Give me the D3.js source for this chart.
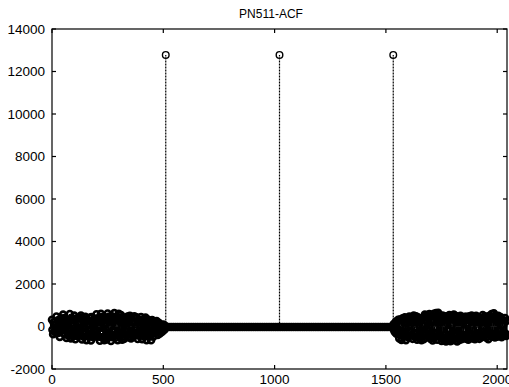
<!DOCTYPE html>
<html>
<head>
<meta charset="utf-8">
<script src="https://cdn.jsdelivr.net/npm/d3@7"></script>
<style>
  body { margin: 0; background: #fff; }
  text { font-family: "Liberation Sans", Arial, sans-serif; fill: #000; }
</style>
</head>
<body>
<svg width="509" height="387"></svg>
<script>
// ****** Data ******
var title = "PN511-ACF";
var xTicks = [0, 500, 1000, 1500, 2000];
var yTicks = [-2000, 0, 2000, 4000, 6000, 8000, 10000, 12000, 14000];

// the three correlation peaks
var peakLags = [511, 1022, 1533];
var peakValues = [12780, 12780, 12780];

// sidelobes before the first peak, every 5th lag from 0
var leftValues = [
  320, -360, 60, -180, 470, -280, 150, -490, 390, -90,
  560, -330, 210, -540, 250, -120, 590, -560, 30, -380,
  510, -600, 340, -250, 120, -420, 520, -610, 290, -40,
  460, -640, 80, -350, 410, -660, 200, -500, 370, -150,
  580, -450, -60, -670, 600, -260, 330, -640, 110, -610,
  610, -420, 240, -680, 480, -170, 630, -530, 20, -650,
  600, -310, 540, -620, 150, -580, 390, -100, 470, -500,
  500, -560, 230, -340, 480, -80, 430, -590, 300, -200,
  450, -600, 120, -470, 420, -640, 330, -250, 60, -650,
  300, -480, 190, -110, 260, -400, 180, -330, 70, -250,
  90, -150
];
// same stretch, every 5th lag from 2
var leftValuesB = [
  -150, 200, -250, 120, -320, 280, -60, 350, -200, 240,
  -300, 400, -180, 330, -420, 260, -350, 150, -460, 300,
  -250, 380, -450, 200, -330, 420, -140, 370, -480, 250,
  -300, 350, -420, 270, -200, 440, -380, 160, -460, 320,
  -350, 280, -480, 400, -240, 460, -520, 300, -380, 420,
  -300, 470, -420, 350, -500, 280, -400, 450, -330, 380,
  -450, 420, -280, 360, -470, 300, -230, 440, -380, 260,
  -340, 410, -460, 200, -300, 380, -420, 250, -360, 190,
  -280, 330, -400, 240, -310, 280, -450, 180, -370, 220,
  -260, 150, -320, 200, -180, 120, -220, 90, -130, 60,
  -80, 40
];

// flat part between the peaks, every 10th lag from 515
var midValues = [
  -25, -25, -25, -25, -25, -25, -25, -25, -25, -25,
  -25, -25, -25, -25, -25, -25, -25, -25, -25, -25,
  -25, -25, -25, -25, -25, -25, -25, -25, -25, -25,
  -25, -25, -25, -25, -25, -25, -25, -25, -25, -25,
  -25, -25, -25, -25, -25, -25, -25, -25, -25, -25,
  -25, -25, -25, -25, -25, -25, -25, -25, -25, -25,
  -25, -25, -25, -25, -25, -25, -25, -25, -25, -25,
  -25, -25, -25, -25, -25, -25, -25, -25, -25, -25,
  -25, -25, -25, -25, -25, -25, -25, -25, -25, -25,
  -25, -25, -25, -25, -25, -25, -25, -25, -25, -25,
  -25, -25
];

// sidelobes after the last peak, every 5th lag from 1535
var rightValues = [
  120, -260, 230, -90, 310, -560, 40, -630, 390, -240,
  430, -640, 150, -500, 470, -200, 410, -580, 520, -70,
  480, -620, 260, -560, 380, -650, 90, -600, 560, -320,
  520, -160, 590, -580, 250, -660, 600, -30, 630, -620,
  650, -400, 180, -680, 520, -640, 300, -700, 470, -120,
  540, -690, 60, -650, 560, -280, 470, -700, 210, -630,
  500, -600, 340, -140, 460, -570, 90, -620, 480, -350,
  520, -560, 230, -600, 500, -50, 450, -580, 180, -500,
  540, -260, 480, -520, 120, -600, 500, -340, 590, -480,
  620, -520, 270, -480, 500, -160, 440, -500, 80, -430,
  400, -450
];
// same stretch, every 5th lag from 1537
var rightValuesB = [
  -180, 90, -340, 250, -150, 330, -420, 280, -360, 200,
  -300, 380, -460, 320, -250, 420, -380, 300, -470, 350,
  -300, 440, -410, 220, -520, 380, -300, 450, -390, 260,
  -460, 400, -330, 480, -420, 300, -540, 420, -360, 470,
  -400, 510, -450, 340, -560, 430, -380, 480, -500, 360,
  -470, 420, -560, 380, -420, 500, -350, 450, -520, 330,
  -440, 400, -480, 350, -400, 460, -510, 300, -430, 420,
  -380, 360, -470, 410, -330, 450, -420, 280, -460, 390,
  -410, 440, -360, 300, -470, 420, -380, 470, -340, 400,
  -450, 480, -390, 330, -420, 370, -350, 300, -400, 280,
  -330, 260
];

// ****** Build the stem table ******
var stems = [];
leftValues.forEach(function(v, i) { stems.push({lag: i * 5, value: v}); });
leftValuesB.forEach(function(v, i) { stems.push({lag: 2 + i * 5, value: v}); });
midValues.forEach(function(v, i) { stems.push({lag: 515 + i * 10, value: v}); });
rightValues.forEach(function(v, i) { stems.push({lag: 1535 + i * 5, value: v}); });
rightValuesB.forEach(function(v, i) { stems.push({lag: 1537 + i * 5, value: v}); });
peakLags.forEach(function(l, i) { stems.push({lag: l, value: peakValues[i]}); });

var svg = d3.select("svg");
var plotLeft = 52, plotRight = 507, plotTop = 29, plotBottom = 369;

var x = d3.scaleLinear().domain([0, 2044]).range([plotLeft, plotRight]);
var y = d3.scaleLinear().domain([-2000, 14000]).range([plotBottom, plotTop]);

// stems
svg.append("g")
    .attr("stroke", "#000")
    .selectAll("line")
    .data(stems)
    .join("line")
      .attr("x1", d => x(d.lag))
      .attr("x2", d => x(d.lag))
      .attr("y1", y(0))
      .attr("y2", d => y(d.value))
      .attr("stroke-width", d => d.value > 5000 ? 1.2 : 2)
      .attr("stroke-dasharray", d => d.value > 5000 ? "2,1" : null);

// open circle markers
svg.append("g")
    .attr("fill", "none")
    .attr("stroke", "#000")
    .selectAll("circle")
    .data(stems)
    .join("circle")
      .attr("cx", d => x(d.lag))
      .attr("cy", d => y(d.value))
      .attr("r", d => d.value > 5000 ? 3.3 : 3)
      .attr("stroke-width", d => d.value > 5000 ? 1.4 : 2.6);

// ****** Axes box with inward ticks ******
var tickLen = 4;
var axisG = svg.append("g").attr("stroke", "#000").attr("stroke-width", 1.2);

axisG.append("rect")
    .attr("x", plotLeft).attr("y", plotTop)
    .attr("width", plotRight - plotLeft).attr("height", plotBottom - plotTop)
    .attr("fill", "none");

xTicks.forEach(function(t) {
    axisG.append("line").attr("x1", x(t)).attr("x2", x(t)).attr("y1", plotBottom).attr("y2", plotBottom - tickLen);
    axisG.append("line").attr("x1", x(t)).attr("x2", x(t)).attr("y1", plotTop).attr("y2", plotTop + tickLen);
});
yTicks.forEach(function(t) {
    axisG.append("line").attr("y1", y(t)).attr("y2", y(t)).attr("x1", plotLeft).attr("x2", plotLeft + tickLen);
    axisG.append("line").attr("y1", y(t)).attr("y2", y(t)).attr("x1", plotRight).attr("x2", plotRight - tickLen);
});

svg.append("g")
    .selectAll("text")
    .data(xTicks)
    .join("text")
      .attr("x", d => x(d))
      .attr("y", 384)
      .attr("text-anchor", "middle")
      .attr("font-size", "13.5px")
      .text(d => d);

svg.append("g")
    .selectAll("text")
    .data(yTicks)
    .join("text")
      .attr("x", 45)
      .attr("y", d => y(d) + 4.5)
      .attr("text-anchor", "end")
      .attr("font-size", "13.5px")
      .text(d => d);

svg.append("text")
    .attr("x", 271)
    .attr("y", 18)
    .attr("text-anchor", "middle")
    .attr("font-size", "12px")
    .text(title);
</script>
</body>
</html>
